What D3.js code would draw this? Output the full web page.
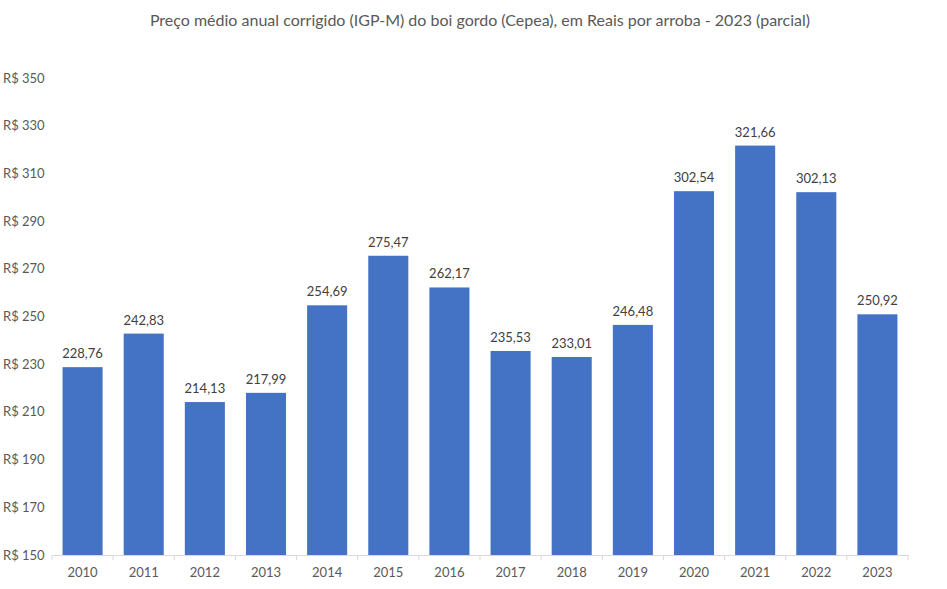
<!DOCTYPE html>
<html>
<head>
<meta charset="utf-8">
<script src="https://cdn.jsdelivr.net/npm/d3@7"></script>
<style>
  body { margin: 0; background: #fff; }
  text { font-family: Lato, "Noto Sans", sans-serif; }
</style>
</head>
<body>
<div id="chart"></div>
<script>
var years = ["2010", "2011", "2012", "2013", "2014", "2015", "2016", "2017", "2018", "2019", "2020", "2021", "2022", "2023"];
var prices = [228.76, 242.83, 214.13, 217.99, 254.69, 275.47, 262.17, 235.53, 233.01, 246.48, 302.54, 321.66, 302.13, 250.92];
var yTicks = [150, 170, 190, 210, 230, 250, 270, 290, 310, 330, 350];
var title = "Preço médio anual corrigido (IGP-M) do boi gordo (Cepea), em Reais por arroba - 2023 (parcial)";

var svgWidth = 947, svgHeight = 589;
var margin = { top: 78, right: 39, bottom: 34, left: 52 };
var width = svgWidth - margin.left - margin.right;
var height = svgHeight - margin.top - margin.bottom;

var svg = d3.select("#chart").append("svg")
    .attr("width", svgWidth)
    .attr("height", svgHeight);

var g = svg.append("g")
    .attr("transform", "translate(" + margin.left + "," + margin.top + ")");

var x = d3.scaleBand()
    .domain(years)
    .range([0, width])
    .paddingInner(0.345)
    .paddingOuter(0.1725);

var y = d3.scaleLinear()
    .domain([150, 350])
    .range([height, 0]);

// title
svg.append("text")
    .attr("x", margin.left + width / 2)
    .attr("y", 26)
    .attr("text-anchor", "middle")
    .attr("font-size", "16px")
    .attr("fill", "#595959")
    .text(title);

// y labels (no axis line)
g.selectAll(".ylab")
    .data(yTicks)
    .enter()
    .append("text")
    .attr("class", "ylab")
    .attr("x", -49)
    .attr("y", function(d) { return y(d); })
    .attr("dy", "0.35em")
    .attr("font-size", "13px")
    .attr("fill", "#595959")
    .text(function(d) { return "R$ " + d; });

// bars
g.selectAll("rect")
    .data(prices)
    .enter()
    .append("rect")
    .attr("x", function(d, i) { return x(years[i]); })
    .attr("y", function(d) { return y(d); })
    .attr("width", x.bandwidth())
    .attr("height", function(d) { return height - y(d); })
    .attr("fill", "#4472C4");

// value labels
g.selectAll(".vlab")
    .data(prices)
    .enter()
    .append("text")
    .attr("class", "vlab")
    .attr("x", function(d, i) { return x(years[i]) + x.bandwidth() / 2; })
    .attr("y", function(d) { return y(d) - 9; })
    .attr("text-anchor", "middle")
    .attr("font-size", "13px")
    .attr("fill", "#404040")
    .text(function(d) { return d.toFixed(2).replace(".", ","); });

// x axis
var xAxis = d3.axisBottom(x).tickSize(0).tickPadding(13);
var xAxisGroup = g.append("g")
    .attr("transform", "translate(0," + height + ")")
    .call(xAxis);
xAxisGroup.select(".domain").attr("stroke", "#d9d9d9");
xAxisGroup.selectAll("text")
    .attr("font-size", "13px")
    .attr("fill", "#595959")
    .style("font-family", "Lato, 'Noto Sans', sans-serif");

// category boundary ticks
xAxisGroup.selectAll(".sep")
    .data(d3.range(years.length + 1))
    .enter()
    .append("line")
    .attr("x1", function(i) { return i * width / years.length; })
    .attr("x2", function(i) { return i * width / years.length; })
    .attr("y1", 0)
    .attr("y2", 5)
    .attr("stroke", "#d9d9d9");
</script>
</body>
</html>
